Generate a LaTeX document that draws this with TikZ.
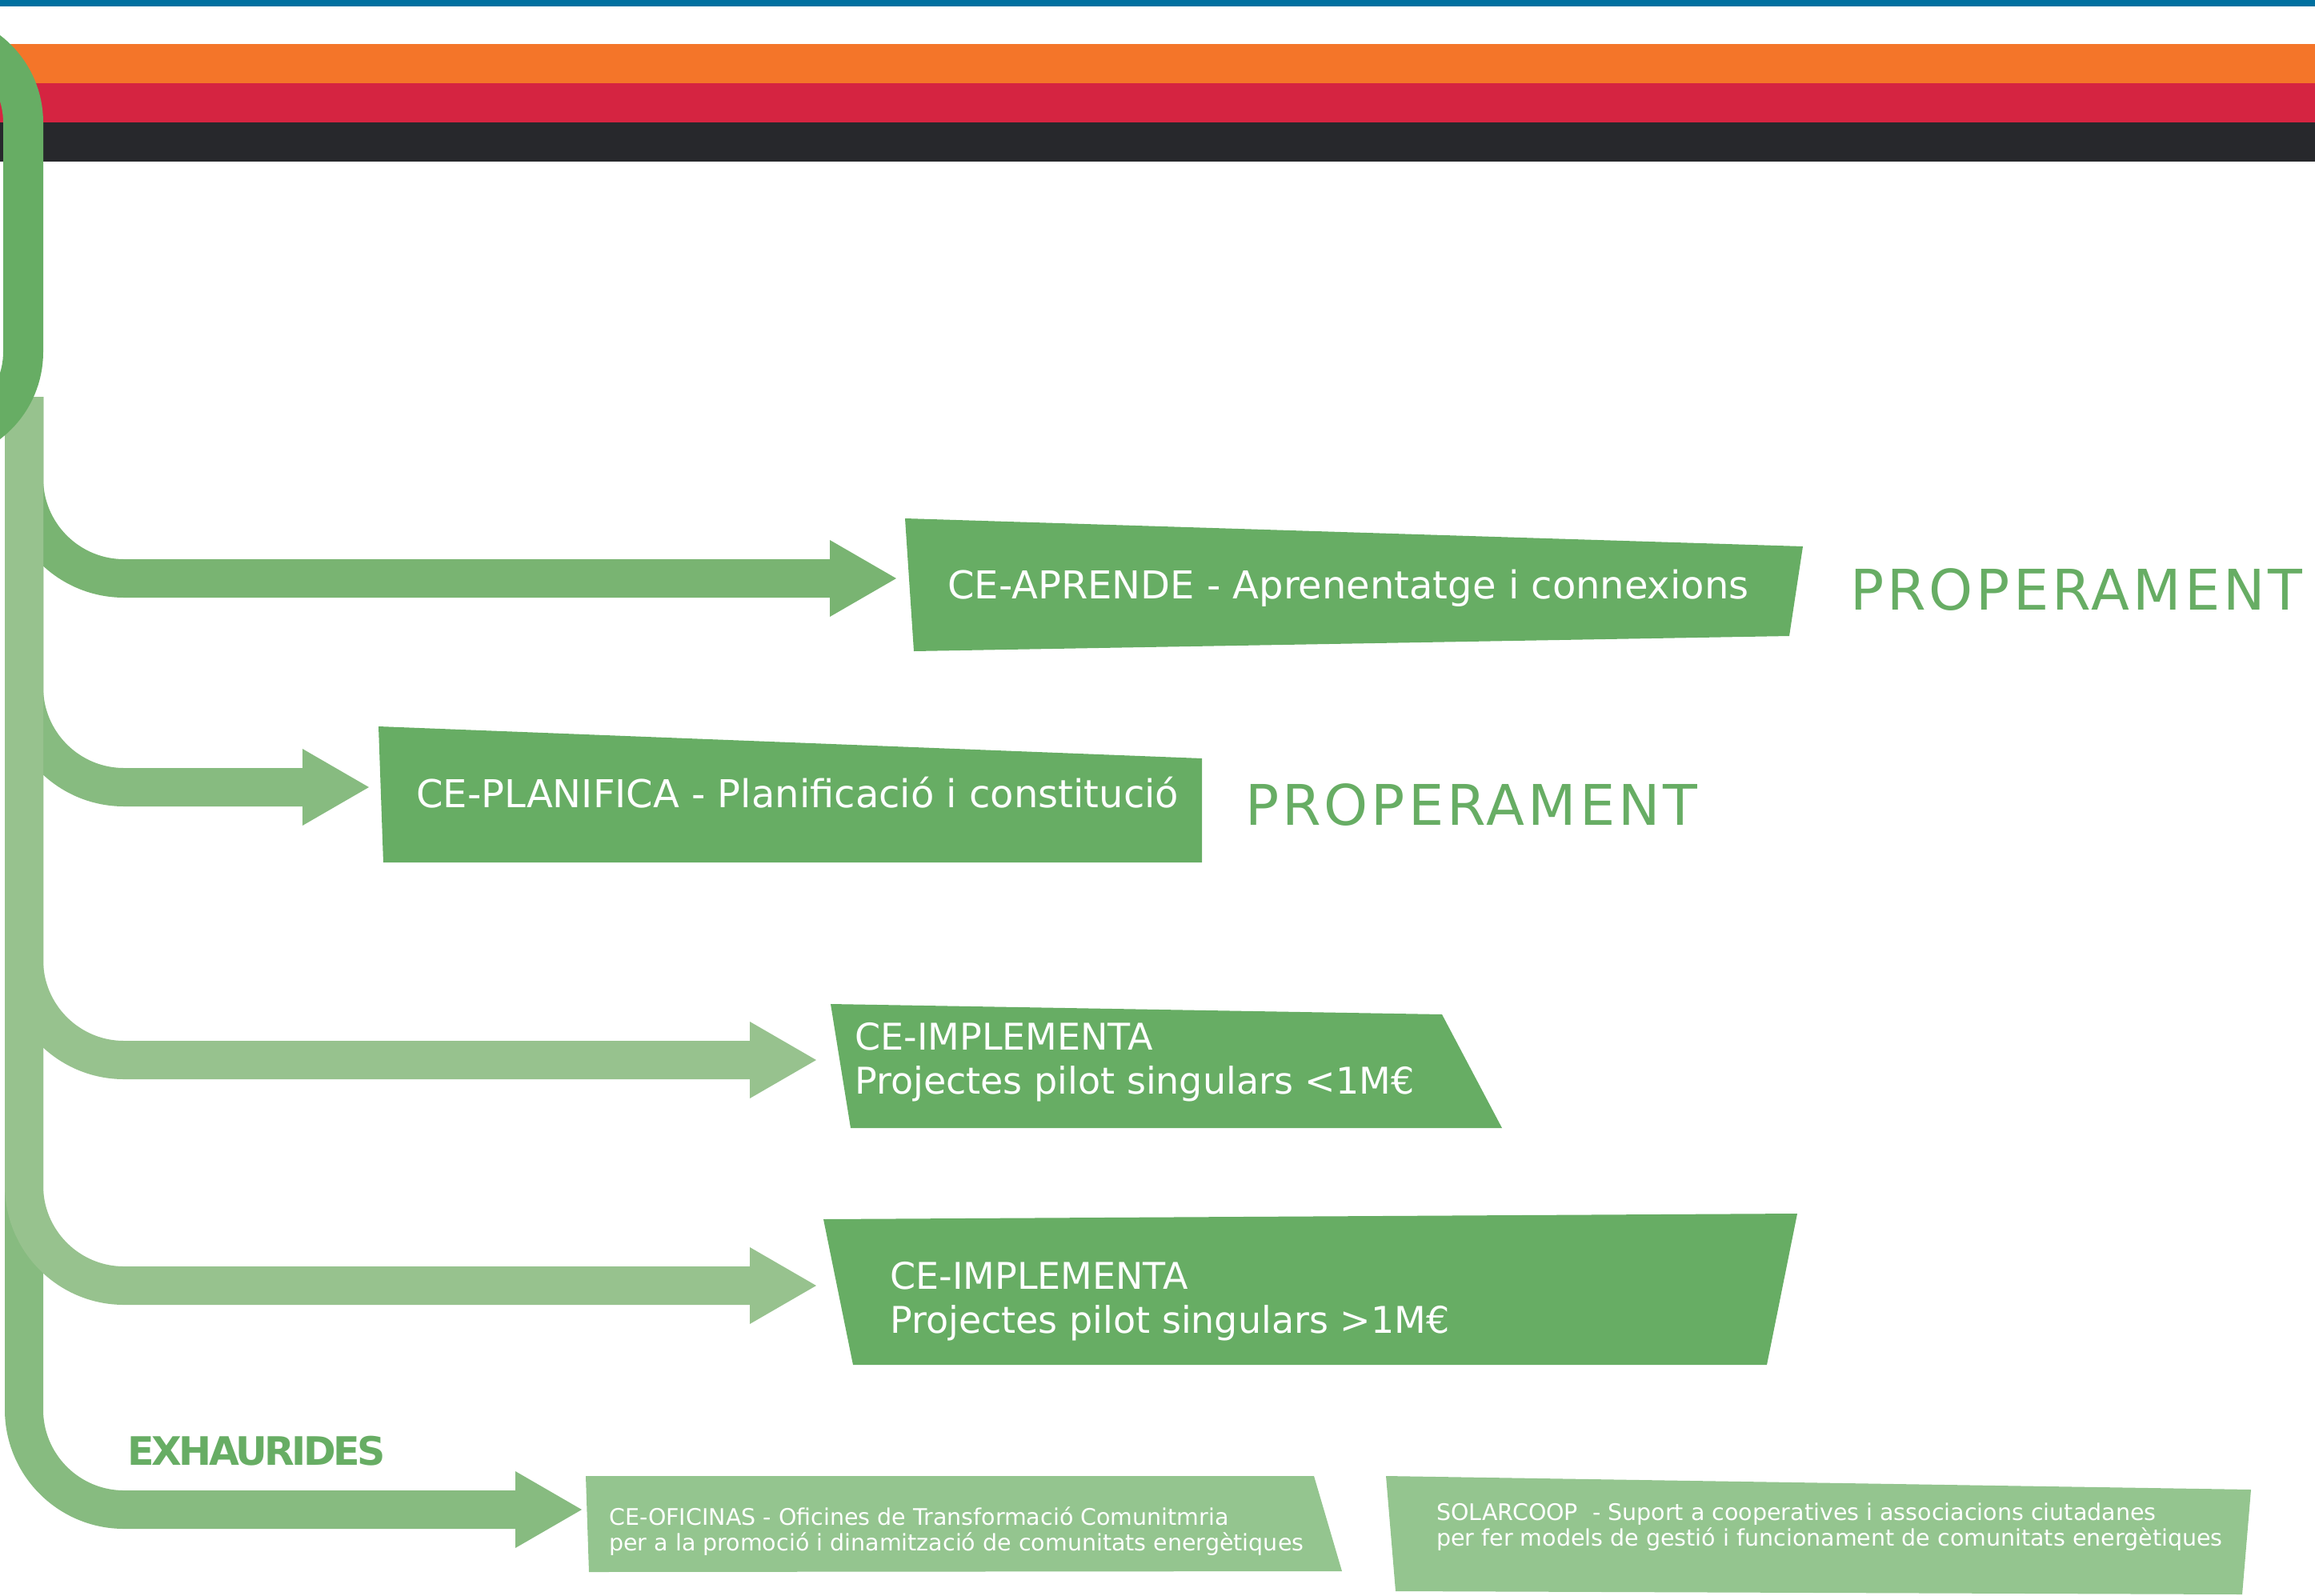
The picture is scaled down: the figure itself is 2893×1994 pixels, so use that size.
\documentclass[tikz,border=0pt]{standalone}
\usepackage{fontspec}
\setmainfont{DejaVu Sans}
\usepackage{xcolor}
\usetikzlibrary{arrows.meta}

\definecolor{barblue}{HTML}{0070A0}
\definecolor{barorange}{HTML}{F47529}
\definecolor{barred}{HTML}{D52441}
\definecolor{bardark}{HTML}{27282C}
\definecolor{boxdark}{HTML}{67AD64}
\definecolor{boxlight}{HTML}{94C58F}
\definecolor{lineA}{HTML}{79B472}
\definecolor{lineB}{HTML}{87BB80}
\definecolor{lineC}{HTML}{97C28E}

\begin{document}
\begin{tikzpicture}[x=1pt, y=-1pt,
    branch/.style={line width=48pt, rounded corners=125pt,
        -{Triangle[length=83pt, width=96pt, line width=0pt]}},
    boxtext/.style={text=white, anchor=base west, inner sep=0pt, align=left,
        font=\fontsize{46}{55}\selectfont},
    widetext/.style={boxtext, font=\fontsize{48}{55}\selectfont},
    smalltext/.style={boxtext, font=\fontsize{28.5}{32}\selectfont},
    soon/.style={text=boxdark, anchor=base west, inner sep=0pt,
        font=\fontsize{70}{84}\selectfont\addfontfeatures{LetterSpace=5.6}}]
    \useasboundingbox (0,0) rectangle (2893,1994);
    \clip (0,0) rectangle (2893,1994);

    % colour bars at the top
    \fill[barblue] (0,0) rectangle (2893,8);
    \fill[barorange] (0,55) rectangle (2893,104);
    \fill[barred] (0,104) rectangle (2893,153);
    \fill[bardark] (0,153) rectangle (2893,202);

    % trunk and branches
    \coordinate (root) at (30,496);
    \coordinate (aprEnd) at (1120,723);
    \coordinate (plaEnd) at (461,984);
    \coordinate (impAEnd) at (1020,1325);
    \coordinate (impBEnd) at (1020,1607);
    \coordinate (ofiEnd) at (727,1887);

    \draw[branch, lineB] (root) |- (ofiEnd);
    \draw[branch, lineA] (root) |- (aprEnd);
    \draw[branch, lineB] (root) |- (plaEnd);
    \draw[branch, lineC] (root) |- (impAEnd);
    \draw[branch, lineC] (root) |- (impBEnd);

    % big rounded stroke on the left
    \draw[boxdark, line width=50pt, rounded corners=112pt] (-700,41) rectangle (29,552);

    % boxes
    \fill[boxdark] (1131,648) -- (2253,683) -- (2236,795) -- (1142,814) -- cycle;
    \fill[boxdark] (473,908) -- (1502,948) -- (1502,1078) -- (479,1078) -- cycle;
    \fill[boxdark] (1038,1255) -- (1802,1268) -- (1877,1410) -- (1063,1410) -- cycle;
    \fill[boxdark] (1029,1524) -- (2246,1517) -- (2208,1706) -- (1066,1706) -- cycle;
    \fill[boxlight] (732,1845) -- (1642,1845) -- (1677,1964) -- (736,1965) -- cycle;
    \fill[boxlight] (1732,1845) -- (2813,1862) -- (2802,1993) -- (1744,1989) -- cycle;

    % texts (multi-line nodes sit on their last baseline)
    \node[widetext] (apr) at (1184,748) {CE-APRENDE - Aprenentatge i connexions};
    \node[widetext] (pla) at (520,1009) {CE-PLANIFICA - Planificació i constitució};
    \node[boxtext] (impA) at (1068,1367) {CE-IMPLEMENTA\\Projectes pilot singulars <1M€};
    \node[boxtext] (impB) at (1112,1666) {CE-IMPLEMENTA\\Projectes pilot singulars >1M€};
    \node[smalltext] (ofi) at (761,1938) {CE-OFICINAS - Oficines de Transformació Comunitmria\\per a la promoció i dinamització de comunitats energètiques};
    \node[smalltext] (solar) at (1795,1932) {SOLARCOOP~ - Suport a cooperatives i associacions ciutadanes\\per fer models de gestió i funcionament de comunitats energètiques};
    \node[soon] (soonA) at (2312,762) {PROPERAMENT};
    \node[soon] (soonB) at (1556,1031) {PROPERAMENT};
    \node[text=boxdark, anchor=base west, inner sep=0pt,
        font=\fontsize{49}{59}\bfseries\selectfont\addfontfeatures{LetterSpace=-7}] (exh) at (159,1831) {EXHAURIDES};
\end{tikzpicture}
\end{document}
